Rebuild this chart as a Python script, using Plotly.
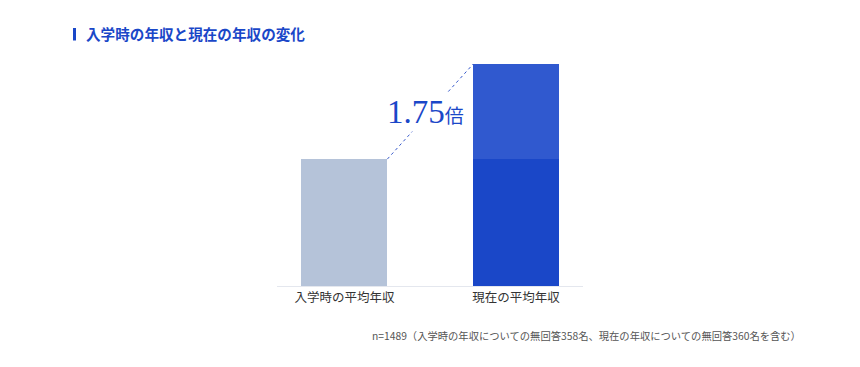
import plotly.graph_objects as go

# Data
categories = ["入学時の平均年収", "現在の平均年収"]
base_values = [1.00, 1.00]      # common part (income at entry level)
increase_values = [0.00, 0.75]  # increase on top of entry level
ratio_label = "1.75"
ratio_unit = "倍"
title_text = "入学時の年収と現在の年収の変化"
note_text = "n=1489（入学時の年収についての無回答358名、現在の年収についての無回答360名を含む）"

OFF = 8  # page body margin
W, H = 860 - OFF, 367 - OFF
L = 277 - OFF
R = W - (583 - OFF)
T = 50 - OFF
B = H - (286 - OFF)
PW, PH = W - L - R, H - T - B
bar_w = 0.5
xs = [0, 1]
totals = [b + i for b, i in zip(base_values, increase_values)]
ymax = totals[1] * PH / (286 - 64)

font_family = "Noto Sans CJK JP"

fig = go.Figure()
fig.add_trace(go.Bar(
    x=xs, y=base_values, width=bar_w,
    marker=dict(color=["#b5c3d9", "#1a47c8"], line=dict(width=0)),
    hoverinfo="skip", showlegend=False,
))
fig.add_trace(go.Bar(
    x=xs, y=increase_values, width=bar_w,
    marker=dict(color=["#b5c3d9", "#3059cf"], line=dict(width=0)),
    hoverinfo="skip", showlegend=False,
))

# connector line from top-right of bar 1 to top-left of bar 2, with gap for the label
x0, y0 = xs[0] + bar_w / 2, totals[0]
x1, y1 = xs[1] - bar_w / 2, totals[1]
def pt(t):
    return x0 + (x1 - x0) * t, y0 + (y1 - y0) * t
for ta, tb in [(0.0, 0.29), (0.71, 1.0)]:
    (ax, ay), (bx, by) = pt(ta), pt(tb)
    fig.add_trace(go.Scatter(
        x=[ax, bx], y=[ay, by], mode="lines",
        line=dict(color="#3a5ccc", width=1, dash="dot"),
        hoverinfo="skip", showlegend=False,
    ))

mx, my = pt(0.5)
fig.add_annotation(
    x=mx - 0.03, y=my, xref="x", yref="y", showarrow=False,
    xanchor="center", yanchor="middle",
    text=(f"<span style='font-family:Liberation Serif;font-size:33px'>{ratio_label}</span>"
          f"<span style='font-size:19px'>{ratio_unit}</span>"),
    font=dict(color="#1a47c8", family=font_family),
)

def px_x(p):
    return (p - OFF - L) / PW
def px_y(p):
    return (H - B - (p - OFF)) / PH

# title marker
fig.add_shape(type="rect", xref="paper", yref="paper",
              x0=px_x(73), x1=px_x(76), y0=px_y(40.5), y1=px_y(28),
              fillcolor="#1a47c8", line=dict(width=0))
fig.add_annotation(
    x=px_x(84), y=px_y(34), xref="paper", yref="paper", showarrow=False,
    xanchor="left", yanchor="middle", text=f"<b>{title_text}</b>",
    font=dict(size=14.6, color="#1a47c8", family=font_family),
)
fig.add_annotation(
    x=px_x(370), y=px_y(335), xref="paper", yref="paper", showarrow=False,
    xanchor="left", yanchor="middle", text=note_text,
    font=dict(size=10.3, color="#555555", family=font_family),
)

fig.update_layout(
    width=W, height=H, barmode="stack",
    margin=dict(l=L, r=R, t=T, b=B, pad=0),
    paper_bgcolor="white", plot_bgcolor="white",
    font=dict(family=font_family, color="#333333"),
    xaxis=dict(range=[-(344.5 - 277) / 172, 1 + (583 - 516) / 172],
               tickvals=xs, ticktext=categories, showgrid=False, zeroline=False,
               showline=True, linecolor="#e4e7ee", linewidth=1,
               tickfont=dict(size=12.5, color="#333333"), ticks=""),
    yaxis=dict(range=[0, ymax], visible=False, showgrid=False, zeroline=False),
)

fig.write_html("out.html")
